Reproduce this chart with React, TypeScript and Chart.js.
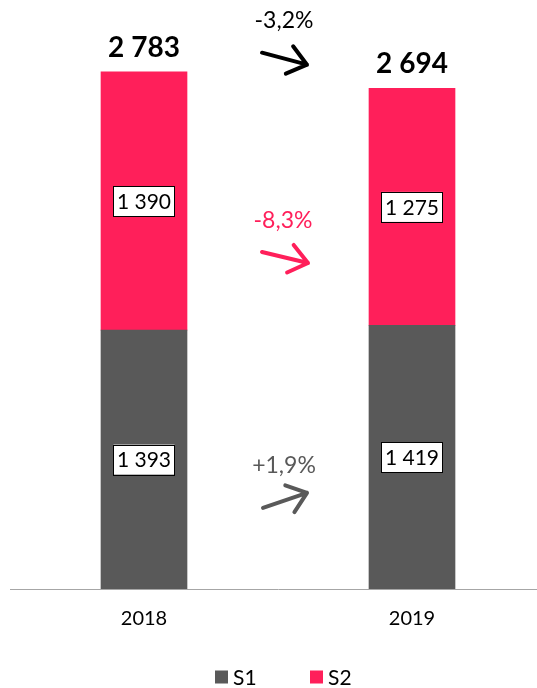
import React, { useEffect, useRef } from "react";
import { Chart, registerables } from "chart.js";

Chart.register(...registerables);

const categories = ["2018", "2019"];
const seriesNames = ["S1", "S2"];
const s1Values = [1393, 1419];
const s2Values = [1390, 1275];
const changeLabels = ["-3,2%", "-8,3%", "+1,9%"];
const seriesColors = ["#595959", "#FF1F5A"];

const FONT = "Lato, 'Open Sans', 'Liberation Sans', sans-serif";

const fmt = (v: number) => String(Math.round(v)).replace(/\B(?=(\d{3})+(?!\d))/g, " ");

function drawArrow(ctx: CanvasRenderingContext2D, x0: number, y0: number, x1: number, y1: number, color: string) {
  const ang = Math.atan2(y1 - y0, x1 - x0);
  const len = 23;
  const spread = (38 * Math.PI) / 180;
  ctx.save();
  ctx.strokeStyle = color;
  ctx.lineWidth = 4;
  ctx.lineCap = "round";
  ctx.lineJoin = "round";
  ctx.beginPath();
  ctx.moveTo(x0, y0);
  ctx.lineTo(x1, y1);
  ctx.moveTo(x1 - len * Math.cos(ang - spread), y1 - len * Math.sin(ang - spread));
  ctx.lineTo(x1, y1);
  ctx.lineTo(x1 - len * Math.cos(ang + spread), y1 - len * Math.sin(ang + spread));
  ctx.stroke();
  ctx.restore();
}

const annotPlugin = {
  id: "annot",
  afterDatasetsDraw(chart: any) {
    const ctx: CanvasRenderingContext2D = chart.ctx;
    const m0 = chart.getDatasetMeta(0).data;
    const m1 = chart.getDatasetMeta(1).data;
    ctx.save();
    // value boxes
    [m0, m1].forEach((els: any[], di: number) => {
      const vals = di === 0 ? s1Values : s2Values;
      els.forEach((el: any, i: number) => {
        const cy = (el.y + el.base) / 2;
        const txt = fmt(vals[i]);
        ctx.font = `21px ${FONT}`;
        const w = ctx.measureText(txt).width + 7;
        const h = 30;
        ctx.fillStyle = "#fff";
        ctx.fillRect(el.x - w / 2, cy - h / 2, w, h);
        ctx.strokeStyle = "#000";
        ctx.lineWidth = 1;
        ctx.strokeRect(Math.round(el.x - w / 2) + 0.5, Math.round(cy - h / 2) + 0.5, Math.round(w), h);
        ctx.fillStyle = "#000";
        ctx.textAlign = "center";
        ctx.textBaseline = "middle";
        ctx.fillText(txt, el.x, cy + 1);
      });
    });
    // totals
    m1.forEach((el: any, i: number) => {
      ctx.font = `bold 28px ${FONT}`;
      ctx.fillStyle = "#000";
      ctx.textAlign = "center";
      ctx.textBaseline = "alphabetic";
      ctx.fillText(fmt(s1Values[i] + s2Values[i]), el.x, el.y - 15);
    });
    const midX = (m0[0].x + m0[1].x) / 2;
    const topY = (m1[0].y + m1[1].y) / 2;
    const s2Y = ((m1[0].y + m1[0].base) / 2 + (m1[1].y + m1[1].base) / 2) / 2;
    const s1Y = ((m0[0].y + m0[0].base) / 2 + (m0[1].y + m0[1].base) / 2) / 2;
    ctx.textAlign = "center";
    ctx.textBaseline = "middle";
    ctx.font = `23px ${FONT}`;
    // total arrow
    ctx.fillStyle = "#000";
    ctx.fillText(changeLabels[0], midX + 6, topY - 60);
    drawArrow(ctx, midX - 16, topY - 27.5, midX + 29, topY - 15.5, "#000");
    // S2 arrow
    ctx.fillStyle = seriesColors[1];
    ctx.fillText(changeLabels[1], midX + 5, s2Y + 17);
    drawArrow(ctx, midX - 16, s2Y + 48, midX + 30, s2Y + 59, seriesColors[1]);
    // S1 arrow
    ctx.fillStyle = seriesColors[0];
    ctx.fillText(changeLabels[2], midX + 6, s1Y + 7.5);
    drawArrow(ctx, midX - 15, s1Y + 49.5, midX + 29, s1Y + 34.5, seriesColors[0]);
    // legend
    const ly = chart.height - 11;
    ctx.font = `21px ${FONT}`;
    ctx.textAlign = "left";
    const xs = [midX - 63, midX + 32];
    seriesNames.forEach((n, i) => {
      ctx.fillStyle = seriesColors[i];
      ctx.fillRect(xs[i], ly - 6.5, 13, 13);
      ctx.fillStyle = "#000";
      ctx.fillText(n, xs[i] + 18, ly + 1);
    });
    ctx.restore();
  },
};

export default function App() {
  const ref = useRef<HTMLCanvasElement | null>(null);
  useEffect(() => {
    if (!ref.current) return;
    const chart = new Chart(ref.current, {
      type: "bar",
      data: {
        labels: categories,
        datasets: [
          { label: seriesNames[0], data: s1Values, backgroundColor: seriesColors[0], barThickness: 86 },
          { label: seriesNames[1], data: s2Values, backgroundColor: seriesColors[1], barThickness: 86 },
        ],
      },
      options: {
        responsive: true,
        maintainAspectRatio: false,
        animation: false,
        layout: { padding: { left: 10, right: 2, top: 0, bottom: 47 } },
        plugins: { legend: { display: false }, tooltip: { enabled: false } },
        scales: {
          x: {
            stacked: true,
            grid: { display: false },
            border: { display: true, color: "#A6A6A6", width: 1 },
            ticks: { color: "#000", font: { family: FONT, size: 20 }, padding: 10 },
          },
          y: { stacked: true, display: false, min: 0, max: 3170 },
        },
      },
      plugins: [annotPlugin],
    });
    return () => chart.destroy();
  }, []);
  return (
    <div style={{ position: "absolute", left: 0, top: 0, width: 537, height: 688, overflow: "hidden" }}>
      <div style={{ position: "relative", width: 548, height: 688 }}>
        <canvas ref={ref} />
      </div>
    </div>
  );
}
